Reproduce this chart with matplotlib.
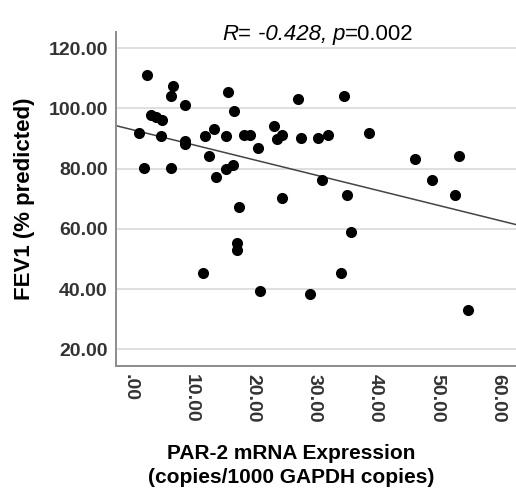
import numpy as np
import matplotlib
matplotlib.use("Agg")
import matplotlib.pyplot as plt

plt.rcParams['font.family'] = ['Liberation Sans', 'DejaVu Sans']

# PAR-2 mRNA expression (copies/1000 GAPDH copies) vs FEV1 (% predicted)
par2 = [2.7, 3.4, 4.2, 5.2, 1.5, 5.0, 2.2, 6.7, 7.0, 6.6,
        9.0, 9.0, 9.0, 12.2, 13.6, 12.9, 14.0, 16.0, 17.0, 15.7,
        15.6, 16.8, 18.6, 19.5, 20.8, 23.5, 24.0, 24.7, 27.3, 27.9,
        17.8, 24.7, 30.7, 32.3, 34.9, 38.9, 46.5, 53.6, 31.2, 35.3,
        49.2, 53.0, 17.5, 17.5, 11.9, 21.2, 29.4, 36.0, 34.3, 55.1]
fev1 = [111.1, 97.7, 97.0, 96.1, 92.0, 90.9, 80.1, 80.1, 107.3, 104.2,
        101.1, 89.2, 88.1, 90.9, 93.1, 84.2, 77.2, 105.3, 99.2, 90.9,
        80.0, 81.1, 91.1, 91.1, 87.0, 94.2, 90.0, 91.1, 103.1, 90.1,
        67.3, 70.1, 90.1, 91.1, 104.2, 92.0, 83.1, 84.1, 76.1, 71.3,
        76.1, 71.2, 55.4, 53.0, 45.5, 39.4, 38.3, 59.0, 45.5, 33.0]

xticks = [0, 10, 20, 30, 40, 50, 60]
yticks = [20, 40, 60, 80, 100, 120]
# stats line pieces: (text, italic?)
stats_parts = [("R", True), ("= ", False), ("-0.428, ", True),
               ("p", True), ("=0.002", False)]

fig = plt.figure(figsize=(5.16, 4.93), dpi=100)
ax = fig.add_axes([0.2248, 0.2582, 0.7752, 0.677])

ax.scatter(par2, fev1, s=64, color='black', zorder=3, linewidths=0)

# linear fit line
slope, intercept = np.polyfit(par2, fev1, 1)
xl = np.array([-2.3, 62.9])
ax.plot(xl, intercept + slope * xl, color='#444444', lw=1.1, zorder=2)

ax.set_xlim(-2.3, 62.9)
ax.set_ylim(14.55, 125.4)
ax.set_xticks(xticks)
ax.set_yticks(yticks)
ax.set_xticklabels(['.00' if t == 0 else '%.2f' % t for t in xticks],
                   rotation=-90, fontsize=14, fontweight='bold', color='#333333')
ax.set_yticklabels(['%.2f' % t for t in yticks],
                   fontsize=14, fontweight='bold', color='#333333')
ax.tick_params(length=0, pad=6)

ax.yaxis.grid(True, color='#dcdcdc', lw=1.3)
ax.set_axisbelow(True)
for s in ['top', 'right']:
    ax.spines[s].set_visible(False)
for s in ['left', 'bottom']:
    ax.spines[s].set_color('#8c8c8c')
    ax.spines[s].set_linewidth(1.4)

ax.set_ylabel('FEV1 (% predicted)', fontsize=16, fontweight='bold')
ax.set_xlabel('PAR-2 mRNA Expression\n(copies/1000 GAPDH copies)',
              fontsize=15, fontweight='bold', linespacing=1.3)
ax.xaxis.set_label_coords(0.4375, -0.235)
ax.yaxis.set_label_coords(-0.2025, 0.5)

# stats text, chained pieces so italic and upright parts sit side by side
first = fig.text(0, 0.919, stats_parts[0][0], fontsize=16,
                 style='italic' if stats_parts[0][1] else 'normal')
prev = first
for txt, it in stats_parts[1:]:
    prev = ax.annotate(txt, xy=(1, 0), xycoords=prev, va='bottom', ha='left',
                       fontsize=16, style='italic' if it else 'normal')
fig.canvas.draw()
r = fig.canvas.get_renderer()
x0 = first.get_window_extent(r).x0
x1 = prev.get_window_extent(r).x1
width = x1 - x0
first.set_x((318 - width / 2) / fig.bbox.width)

fig.savefig('out.png', dpi=100)
